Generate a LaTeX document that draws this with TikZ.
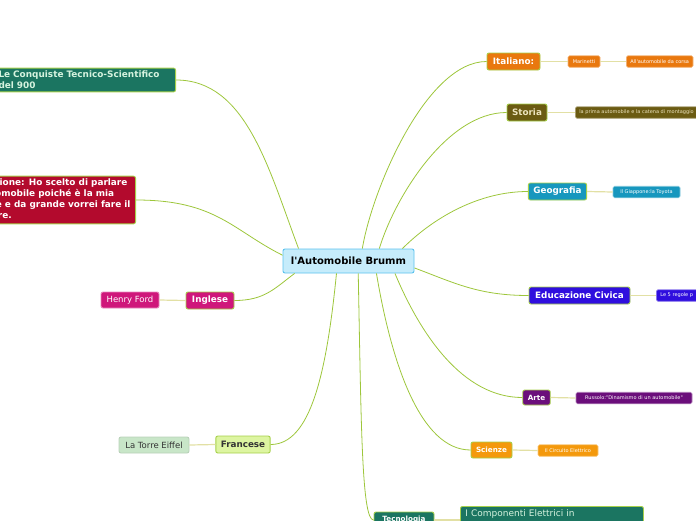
\documentclass[tikz,border=0pt]{standalone}
\usepackage{fontspec}
\setmainfont{DejaVu Sans}
\usepackage{xcolor}
\usepackage{tikz}
\usetikzlibrary{calc}

\definecolor{rootfill}{HTML}{C6ECFB}
\definecolor{rootrim}{HTML}{5BC2EE}
\definecolor{linkgreen}{HTML}{9DC63B}
\definecolor{twigpale}{HTML}{E2E0A4}
\definecolor{topicrim}{HTML}{A6D04A}
\definecolor{orangeA}{HTML}{E9780E}
\definecolor{olivebox}{HTML}{6B5B12}
\definecolor{storiatext}{HTML}{EDE4BE}
\definecolor{geoblue}{HTML}{1797BE}
\definecolor{civblue}{HTML}{2F0EDE}
\definecolor{artpurple}{HTML}{6B0E7B}
\definecolor{sciorange}{HTML}{F4990C}
\definecolor{tealdark}{HTML}{1B7561}
\definecolor{mint}{HTML}{D6F3DF}
\definecolor{magentaA}{HTML}{CF177B}
\definecolor{limepale}{HTML}{DDF5A1}
\definecolor{mintpale}{HTML}{C8E6C8}
\definecolor{darktext}{HTML}{333333}
\definecolor{crimson}{HTML}{B30A2D}
\newcommand{\apos}{\textquotesingle}

\begin{document}
\begin{tikzpicture}[x=1pt,y=1pt,
  every node/.style={rounded corners=2pt,line width=.9pt,inner ysep=0pt,inner xsep=5pt,text=white},
  topic/.style={fill=#1,draw=topicrim,font=\fontsize{8.8}{10}\selectfont\bfseries,minimum height=17pt},
  small/.style={font=\fontsize{7.2}{9}\selectfont\bfseries,minimum height=16pt},
  leaf/.style={fill=#1,draw=#1!55!white,font=\fontsize{5}{6}\selectfont,minimum height=11.5pt,
    line width=.6pt,rounded corners=1.5pt,inner xsep=4pt},
  link/.style={draw=linkgreen,line width=.8pt},
  twig/.style={draw=twigpale,line width=1.2pt}]
\useasboundingbox (0,0) rectangle (696,-520);
\clip (0,0) rectangle (696,-520);

% centre
\node[fill=rootfill,draw=rootrim,text=black,font=\fontsize{10}{12}\selectfont\bfseries,
  minimum width=131pt,minimum height=24pt] (root) at (348.5,-261) {l\apos Automobile Brumm};

% right side
\node[topic=orangeA,minimum width=53pt] (ita) at (513.5,-61.5) {Italiano:};
\node[leaf=orangeA,minimum width=32pt] (mar) at (584,-61.5) {Marinetti};
\node[leaf=orangeA,anchor=west] (cor) at (626,-61.5) {All\apos automobile da corsa};
\node[topic=olivebox,text=storiatext,minimum width=40pt] (sto) at (527,-112.5) {Storia};
\node[leaf=olivebox,text=storiatext,anchor=west] (mon) at (575,-112.5) {la prima automobile e la catena di montaggio};
\node[topic=geoblue,minimum width=57pt] (geo) at (557.5,-191.5) {Geografia};
\node[leaf=geoblue,minimum width=67pt] (gia) at (646.5,-192) {Il Giappone:la Toyota};
\node[topic=civblue,minimum width=101pt] (civ) at (579.5,-295.5) {Educazione Civica};
\node[leaf=civblue,anchor=west,text width=60pt,align=left] (reg) at (656,-295.5) {Le 5 regole p};
\node[topic=artpurple,small,minimum width=27pt,minimum height=15pt] (art) at (536.5,-397.5) {Arte};
\node[leaf=artpurple,minimum width=116pt] (rus) at (634,-398) {Russolo:\textquotedbl Dinamismo di un automobile\textquotedbl};
\node[topic=sciorange,small,minimum width=41pt] (sci) at (491.5,-450) {Scienze};
\node[leaf=sciorange,minimum width=60pt] (cir) at (568,-450.5) {Il Circuito Elettrico};
\node[topic=tealdark,small,minimum width=60pt] (tec) at (404,-520) {Tecnologia};
\node[fill=tealdark,draw=topicrim,anchor=north west,text=mint,text width=173pt,align=left,
  font=\fontsize{9}{11}\selectfont,inner ysep=3pt] (com) at (460,-506) {I Componenti Elettrici in\\ \mbox{}};

% left side
\node[topic=magentaA,minimum width=48pt] (ing) at (210,-300.5) {Inglese};
\node[fill=magentaA,draw=magentaA!50!white,font=\fontsize{8.5}{10}\selectfont,
  minimum width=58pt,minimum height=16pt] (hen) at (130,-300) {Henry Ford};
\node[topic=limepale,text=darktext,minimum width=54pt] (fra) at (243,-444.5) {Francese};
\node[fill=mintpale,draw=mintpale!80!gray,text=darktext,font=\fontsize{8.5}{10}\selectfont,
  minimum width=70pt,minimum height=16pt] (eif) at (154,-445) {La Torre Eiffel};
\node[topic=tealdark,text=mint,anchor=east,align=left,text width=172pt,
  font=\fontsize{8.9}{11}\selectfont\bfseries,inner ysep=3pt] (con) at (176,-80)
  {Le Conquiste Tecnico-Scientifico\\del 900};
\node[topic=crimson,anchor=east,align=left,font=\fontsize{8.9}{11}\selectfont\bfseries,inner ysep=3pt] (int) at (136,-200)
  {Introduzione: Ho scelto di parlare\\dell\apos automobile poiché è la mia\\passione e da grande vorrei fare il\\ingegnere.};

% branches
\draw[link] (root.42) .. controls +(10,60) and +(-60,0) .. (ita.west);
\draw[link] (root.22) .. controls +(15,50) and +(-60,0) .. (sto.west);
\draw[link] (root.13) .. controls +(30,30) and +(-50,0) .. (geo.west);
\draw[link] (root.-6) .. controls +(40,-15) and +(-50,0) .. (civ.west);
\draw[link] (root.-15) .. controls +(25,-60) and +(-60,0) .. (art.west);
\draw[link] (root.-24) .. controls +(15,-90) and +(-50,0) .. (sci.west);
\draw[link] (root.-52) .. controls +(3,-150) and +(-12,0) .. (tec.west);
\draw[link] (root.-134) .. controls +(-10,-100) and +(40,0) .. (fra.east);
\draw[link] (root.-167) .. controls +(-20,-15) and +(30,0) .. (ing.east);
\draw[link] (root.175) .. controls +(-50,25) and +(80,0) .. (int.east);
\draw[link] (root.166) .. controls +(-30,80) and +(70,0) .. (con.east);

% twigs
\draw[twig] (ita.east) -- (mar.west);
\draw[twig] (mar.east) -- (cor.west);
\draw[twig] (sto.east) -- (mon.west);
\draw[twig] (geo.east) -- (gia.west);
\draw[twig] (civ.east) -- (reg.west);
\draw[twig] (art.east) -- (rus.west);
\draw[twig] (sci.east) -- (cir.west);
\draw[twig] (tec.east) -- (com.west |- tec.east);
\draw[twig] (ing.west) -- (hen.east);
\draw[twig] (fra.west) -- (eif.east);
\end{tikzpicture}
\end{document}
